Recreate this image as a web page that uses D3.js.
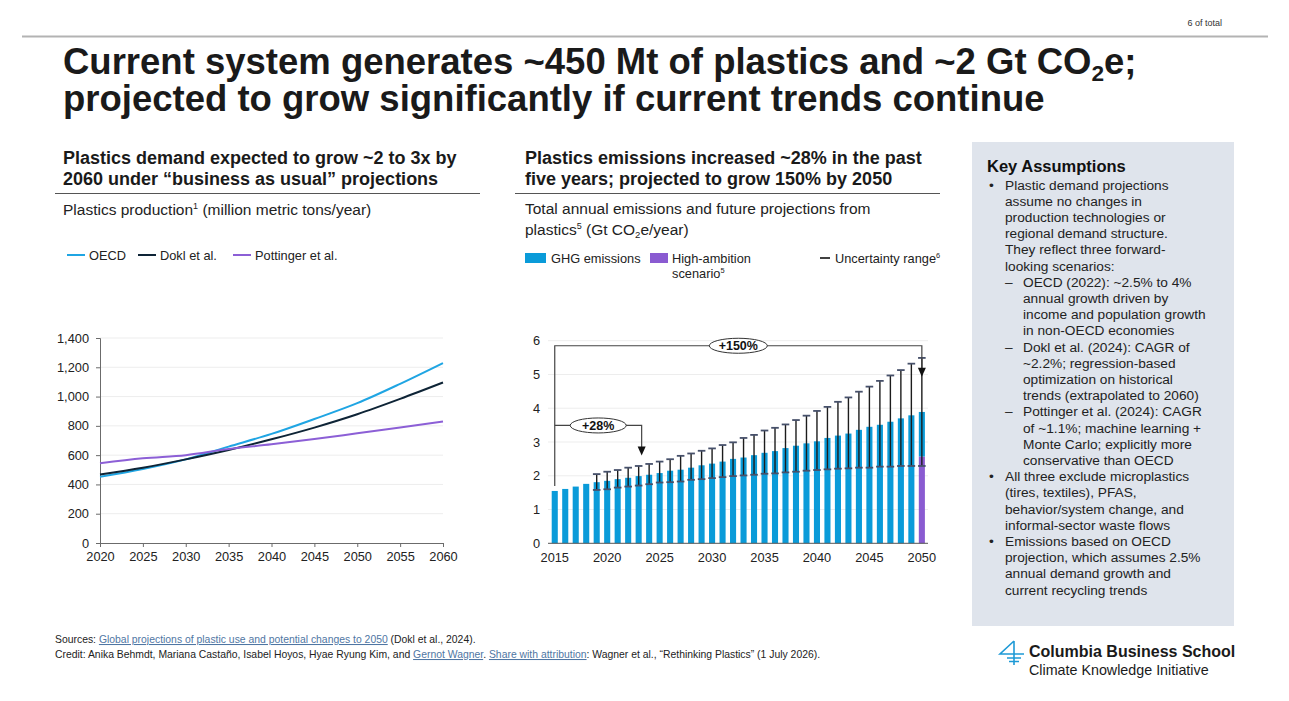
<!DOCTYPE html>
<html>
<head>
<meta charset="utf-8">
<script src="https://cdn.jsdelivr.net/npm/d3@7"></script>
<style>
  body { margin: 0; background: #fff; }
  svg { display: block; font-family: "Liberation Sans", Arial, sans-serif; }
</style>
</head>
<body>
<script>
// ---- left chart: plastics production (Mt/year)
var prodYears = [2020, 2025, 2030, 2035, 2040, 2045, 2050, 2055, 2060];
var oecd      = [452, 505, 571, 658, 745, 847, 955, 1087, 1229];
var dokl      = [468, 514, 571, 635, 708, 788, 879, 984, 1096];
var pottinger = [544, 578, 600, 642, 674, 710, 749, 788, 829];
var prodTicks = [0, 200, 400, 600, 800, 1000, 1200, 1400];

// ---- right chart: emissions (Gt CO2e/year)
var emYears = d3.range(2015, 2051);
var ghg = [1.55, 1.61, 1.68, 1.76, 1.81, 1.85, 1.90, 1.94, 1.99, 2.03,
           2.08, 2.15, 2.18, 2.24, 2.31, 2.36, 2.42, 2.50, 2.54, 2.61,
           2.68, 2.73, 2.82, 2.89, 2.96, 3.02, 3.12, 3.19, 3.25, 3.36,
           3.45, 3.51, 3.60, 3.70, 3.79, 3.89];
var highAmbition = {2050: 2.57};
var errLow = [null, null, null, null, 1.58, 1.60, 1.65, 1.68, 1.71, 1.75,
              1.80, 1.81, 1.83, 1.88, 1.90, 1.93, 1.96, 1.99, 2.01, 2.03,
              2.06, 2.07, 2.10, 2.12, 2.15, 2.17, 2.19, 2.21, 2.22, 2.24,
              2.24, 2.27, 2.27, 2.29, 2.29, 2.29];
var errHigh = [null, null, null, null, 2.05, 2.12, 2.17, 2.24, 2.29, 2.35,
               2.42, 2.49, 2.59, 2.66, 2.74, 2.81, 2.91, 2.99, 3.12, 3.21,
               3.34, 3.42, 3.52, 3.65, 3.78, 3.92, 4.04, 4.19, 4.32, 4.49,
               4.64, 4.81, 4.97, 5.13, 5.32, 5.49];
var emTicks = [0, 1, 2, 3, 4, 5, 6];
var emLabelYears = [2015, 2020, 2025, 2030, 2035, 2040, 2045, 2050];

var keyLines = [
  ['b', 'Plastic demand projections'],
  ['c', 'assume no changes in'],
  ['c', 'production technologies or'],
  ['c', 'regional demand structure.'],
  ['c', 'They reflect three forward-'],
  ['c', 'looking scenarios:'],
  ['d', 'OECD (2022): ~2.5% to 4%'],
  ['e', 'annual growth driven by'],
  ['e', 'income and population growth'],
  ['e', 'in non-OECD economies'],
  ['d', 'Dokl et al. (2024): CAGR of'],
  ['e', '~2.2%; regression-based'],
  ['e', 'optimization on historical'],
  ['e', 'trends (extrapolated to 2060)'],
  ['d', 'Pottinger et al. (2024): CAGR'],
  ['e', 'of ~1.1%; machine learning +'],
  ['e', 'Monte Carlo; explicitly more'],
  ['e', 'conservative than OECD'],
  ['b', 'All three exclude microplastics'],
  ['c', '(tires, textiles), PFAS,'],
  ['c', 'behavior/system change, and'],
  ['c', 'informal-sector waste flows'],
  ['b', 'Emissions based on OECD'],
  ['c', 'projection, which assumes 2.5%'],
  ['c', 'annual demand growth and'],
  ['c', 'current recycling trends']
];

var C_OECD = '#1fa5e3', C_DOKL = '#0e2436', C_POTT = '#8c5fd6';
var C_BAR = '#0a9bd9', C_HIGH = '#8a5bd1';
var INK = '#1a1a1a';

var svg = d3.select('body').append('svg').attr('width', 1289).attr('height', 701);

function drawText(x, y, size, weight, parts, fill, anchor) {
  var t = svg.append('text').attr('x', x).attr('y', y)
      .attr('font-size', size).attr('font-weight', weight || 'normal')
      .attr('fill', fill || INK).attr('text-anchor', anchor || 'start');
  if (typeof parts === 'string') parts = [parts];
  parts.forEach(function(p) {
    if (typeof p === 'string') { t.append('tspan').text(p); return; }
    var s = t.append('tspan').text(p.t);
    if (p.sub) s.attr('font-size', size * 0.62).attr('dy', size * 0.2);
    if (p.sup) s.attr('font-size', size * 0.58).attr('dy', -size * 0.38);
    if (p.back) s.attr('dy', p.back);
    if (p.fill) s.attr('fill', p.fill);
    if (p.u) s.attr('text-decoration', 'underline');
  });
  return t;
}

function drawLine(x1, y1, x2, y2, stroke, w) {
  return svg.append('line').attr('x1', x1).attr('y1', y1).attr('x2', x2).attr('y2', y2)
      .attr('stroke', stroke).attr('stroke-width', w || 1);
}

// ---- header
drawText(1222, 26, 9, 'normal', '6 of total', '#333', 'end');
drawLine(22, 36.5, 1268, 36.5, '#b3b3b3', 2);
drawText(63, 74, 36.5, 'bold', ['Current system generates ~450 Mt of plastics and ~2 Gt CO',
  {t: '2', sub: true}, {t: 'e;', back: -36.5 * 0.2}]);
drawText(63, 111, 36.5, 'bold', 'projected to grow significantly if current trends continue');

// ---- left chart headings
drawText(63, 164, 18, 'bold', 'Plastics demand expected to grow ~2 to 3x by');
drawText(63, 185, 18, 'bold', '2060 under \u201cbusiness as usual\u201d projections');
drawLine(55, 193.5, 480, 193.5, '#555', 1);
drawText(63, 215, 15.5, 'normal', ['Plastics production', {t: '1', sup: true}, {t: ' (million metric tons/year)', back: 15.5 * 0.38}], '#222');

var legL = [['OECD', C_OECD, 67], ['Dokl et al.', C_DOKL, 138], ['Pottinger et al.', C_POTT, 233]];
legL.forEach(function(d) {
  drawLine(d[2], 255, d[2] + 18, 255, d[1], 2);
  drawText(d[2] + 22, 259.5, 12.8, 'normal', d[0], '#222');
});

// ---- left chart
var lx = d3.scaleLinear().domain([2020, 2060]).range([100, 443]);
var ly = d3.scaleLinear().domain([0, 1400]).range([543, 338]);

svg.append('g').selectAll('line').data(prodTicks.slice(1)).join('line')
  .attr('x1', 100).attr('x2', 443)
  .attr('y1', function(d) { return ly(d); }).attr('y2', function(d) { return ly(d); })
  .attr('stroke', '#ededed');

var gy = svg.append('g').attr('transform', 'translate(100,0)')
  .call(d3.axisLeft(ly).tickValues(prodTicks).tickFormat(d3.format(',')).tickSize(4).tickPadding(7));
var gx = svg.append('g').attr('transform', 'translate(0,543)')
  .call(d3.axisBottom(lx).tickValues(prodYears).tickFormat(d3.format('d')).tickSize(4).tickPadding(5));
[gy, gx].forEach(function(g) {
  g.attr('font-family', null).attr('font-size', 12.8);
  g.selectAll('path, line').attr('stroke', '#6b6b6b');
  g.selectAll('text').attr('fill', '#222');
});

var series = [[oecd, C_OECD], [dokl, C_DOKL], [pottinger, C_POTT]];
var line = d3.line().x(function(d, i) { return lx(prodYears[i]); }).y(function(d) { return ly(d); })
  .curve(d3.curveMonotoneX);
series.forEach(function(s) {
  svg.append('path').attr('d', line(s[0])).attr('fill', 'none')
    .attr('stroke', s[1]).attr('stroke-width', 2);
});

// ---- right chart headings
drawText(525, 164, 18, 'bold', 'Plastics emissions increased ~28% in the past');
drawText(525, 185, 18, 'bold', 'five years; projected to grow 150% by 2050');
drawLine(515, 193.5, 940, 193.5, '#555', 1);
drawText(525, 214, 15.5, 'normal', 'Total annual emissions and future projections from', '#222');
drawText(525, 235, 15.5, 'normal', ['plastics', {t: '5', sup: true}, {t: '  (Gt CO', back: 15.5 * 0.38},
  {t: '2', sub: true}, {t: 'e/year)', back: -15.5 * 0.2}], '#222');

svg.append('rect').attr('x', 525).attr('y', 253).attr('width', 21).attr('height', 10).attr('fill', C_BAR);
drawText(551, 262.5, 12.8, 'normal', 'GHG emissions', '#222');
svg.append('rect').attr('x', 650).attr('y', 253).attr('width', 18).attr('height', 10).attr('fill', C_HIGH);
drawText(672, 262.5, 12.8, 'normal', 'High-ambition', '#222');
drawText(672, 277.5, 12.8, 'normal', ['scenario', {t: '5', sup: true}], '#222');
drawLine(820, 258, 830, 258, '#111', 1.6);
drawText(835, 262.5, 12.8, 'normal', ['Uncertainty range', {t: '6', sup: true}], '#222');

// ---- right chart
var ex = d3.scaleBand().domain(emYears).range([547.3, 929.3]).paddingInner(0.42).paddingOuter(0.42);
var ey = d3.scaleLinear().domain([0, 6]).range([543.3, 340.7]);
var bw = ex.bandwidth();
function xc(yr) { return ex(yr) + bw / 2; }

svg.append('g').selectAll('line').data(emTicks.slice(1)).join('line')
  .attr('x1', 548).attr('x2', 928)
  .attr('y1', function(d) { return ey(d); }).attr('y2', function(d) { return ey(d); })
  .attr('stroke', '#ededed');

var emData = emYears.map(function(y, i) {
  return {year: y, v: ghg[i], base: highAmbition[y] || 0, lo: errLow[i], hi: errHigh[i]};
});

svg.append('g').selectAll('rect').data(emData.filter(function(d) { return d.base > 0; })).join('rect')
  .attr('x', function(d) { return ex(d.year); }).attr('width', bw)
  .attr('y', function(d) { return ey(d.base); })
  .attr('height', function(d) { return ey(0) - ey(d.base); })
  .attr('fill', C_HIGH);
svg.append('g').selectAll('rect').data(emData).join('rect')
  .attr('x', function(d) { return ex(d.year); }).attr('width', bw)
  .attr('y', function(d) { return ey(d.v); })
  .attr('height', function(d) { return ey(d.base) - ey(d.v); })
  .attr('fill', C_BAR);

var errs = emData.filter(function(d) { return d.lo != null; });
var ge = svg.append('g');
ge.selectAll('line.v').data(errs).join('line')
  .attr('x1', function(d) { return xc(d.year); }).attr('x2', function(d) { return xc(d.year); })
  .attr('y1', function(d) { return ey(d.lo); }).attr('y2', function(d) { return ey(d.hi); })
  .attr('stroke', '#1c1c1c').attr('stroke-width', 1.4);
['lo', 'hi'].forEach(function(k) {
  ge.selectAll('line.' + k).data(errs).join('line').attr('class', k)
    .attr('x1', function(d) { return xc(d.year) - 3.8; }).attr('x2', function(d) { return xc(d.year) + 3.8; })
    .attr('y1', function(d) { return ey(d[k]); }).attr('y2', function(d) { return ey(d[k]); })
    .attr('stroke', '#46506a').attr('stroke-width', 1.8);
});

var gex = svg.append('g').attr('transform', 'translate(0,' + ey(0) + ')')
  .call(d3.axisBottom(ex).tickValues(emLabelYears).tickSize(0).tickPadding(10));
gex.attr('font-family', null).attr('font-size', 12.8);
gex.select('.domain').attr('d', 'M548,0H928').attr('stroke', '#555');
gex.selectAll('text').attr('fill', '#222');

var gey = svg.append('g').attr('transform', 'translate(540,0)')
  .call(d3.axisLeft(ey).tickValues(emTicks).tickFormat(d3.format('d')).tickSize(0).tickPadding(0));
gey.attr('font-family', null).attr('font-size', 12.8);
gey.select('.domain').remove();
gey.selectAll('text').attr('fill', '#222');

// ---- annotations
function arrowHead(x, yTip) {
  svg.append('path').attr('d', 'M' + (x - 4) + ',' + (yTip - 9) + 'L' + (x + 4) + ',' + (yTip - 9) + 'L' + x + ',' + yTip + 'Z')
    .attr('fill', '#111');
}
function bubble(x, y, w, label) {
  svg.append('ellipse').attr('cx', x).attr('cy', y).attr('rx', w / 2).attr('ry', 7.5)
    .attr('fill', '#fff').attr('stroke', '#333').attr('stroke-width', 1);
  drawText(x, y + 4.3, 12.5, 'bold', label, '#111', 'middle');
}
var x0 = xc(2015), x50 = xc(2050), x23 = xc(2023) + 3;
svg.append('path').attr('fill', 'none').attr('stroke', '#444').attr('stroke-width', 1.2)
  .attr('d', 'M' + x0 + ',' + ey(1.7) + 'V' + ey(5.85) + 'H' + x50 + 'V' + (ey(4.93) - 8));
arrowHead(x50, ey(4.93));
bubble((x0 + x50) / 2, ey(5.85), 58, '+150%');
svg.append('path').attr('fill', 'none').attr('stroke', '#444').attr('stroke-width', 1.2)
  .attr('d', 'M' + x0 + ',' + ey(3.49) + 'H' + x23 + 'V' + (ey(2.6) - 8));
arrowHead(x23, ey(2.6));
bubble((x0 + x23) / 2, ey(3.49), 56, '+28%');

// ---- key assumptions panel
svg.append('rect').attr('x', 972).attr('y', 142).attr('width', 262).attr('height', 484).attr('fill', '#dfe4ec');
drawText(987, 172, 16.5, 'bold', 'Key Assumptions', '#111');
keyLines.forEach(function(k, i) {
  var y = 189.5 + i * 16.2;
  if (k[0] === 'b') drawText(989, y, 13.7, 'normal', '\u2022', '#222');
  if (k[0] === 'd') drawText(1005, y, 13.7, 'normal', '\u2013', '#222');
  var x = (k[0] === 'd' || k[0] === 'e') ? 1023 : 1005;
  drawText(x, y, 13.7, 'normal', k[1], '#222');
});

// ---- footer
var LINK = '#4f76a3';
drawText(55, 643, 10.4, 'normal', ['Sources: ', {t: 'Global projections of plastic use and potential changes to 2050', fill: LINK, u: true},
  ' (Dokl et al., 2024).'], '#222');
drawText(55, 658, 10.4, 'normal', ['Credit: Anika Behmdt, Mariana Casta\u00f1o, Isabel Hoyos,  Hyae Ryung Kim, and ',
  {t: 'Gernot Wagner', fill: LINK, u: true}, '. ', {t: 'Share with attribution', fill: LINK, u: true},
  ': Wagner et al., \u201cRethinking Plastics\u201d (1 July 2026).'], '#222');

// logo
var logo = svg.append('g').attr('stroke', '#1e9ad6').attr('stroke-width', 1.6).attr('fill', 'none');
logo.append('path').attr('d', 'M1014,641 L1000,654 H1024 M1014,641 V665 M1007,658 H1021 M1009,661.5 H1019');
drawText(1029, 657, 16, 'bold', 'Columbia Business School', '#1a1a1a');
drawText(1029, 675, 14.3, 'normal', 'Climate Knowledge Initiative', '#1a1a1a');
</script>
</body>
</html>
